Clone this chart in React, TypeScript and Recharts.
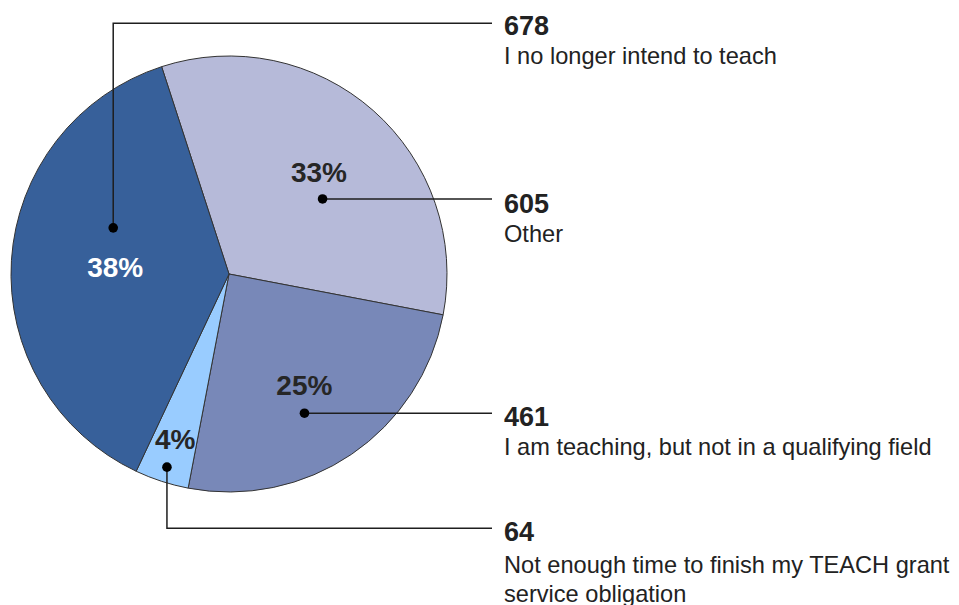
import React from "react";
import { PieChart, Pie, Cell } from "recharts";

// Slices go clockwise from the top boundary
const categories = [
  "Other",
  "I am teaching, but not in a qualifying field",
  "Not enough time to finish my TEACH grant service obligation",
  "I no longer intend to teach",
];
const categoryLines = [
  ["Other"],
  ["I am teaching, but not in a qualifying field"],
  ["Not enough time to finish my TEACH grant", "service obligation"],
  ["I no longer intend to teach"],
];
const counts = [605, 461, 64, 678];
const percents = [33, 25, 4, 38];

const COLORS = ["#b6bad9", "#7888b8", "#99ccff", "#37609a"];
const PCT_COLORS = ["#262626", "#262626", "#262626", "#ffffff"];

// label placement per slice (text radius as share of outer radius, dot offset from text,
// optional elbow target y relative to the centre, text offsets below the leader line)
const LAYOUT = [
  { textR: 0.624, dotDx: 3.6, dotDy: 27, elbowY: null as number | null, numDy: 14, gap: 29, lead: 25 },
  { textR: 0.615, dotDx: 0.1, dotDy: 28.3, elbowY: null as number | null, numDy: 12.5, gap: 29, lead: 25 },
  { textR: 0.798, dotDx: -8.3, dotDy: 27.7, elbowY: 254.3, numDy: 12.4, gap: 32.6, lead: 28.4 },
  { textR: 0.523, dotDx: -2, dotDy: -39, elbowY: -250.7, numDy: 12, gap: 29, lead: 25 },
];

const FONT = "'Liberation Sans', Arial, Helvetica, sans-serif";
const RADIAN = Math.PI / 180;

const data = categories.map((name, i) => ({
  name,
  count: counts[i],
  percent: percents[i],
}));

const renderLabel = (props: any) => {
  const { cx, cy, midAngle, outerRadius, index } = props;
  const lay = LAYOUT[index];
  const r = outerRadius * lay.textR;
  const tx = cx + r * Math.cos(-midAngle * RADIAN);
  const ty = cy + r * Math.sin(-midAngle * RADIAN);
  const dx = tx + lay.dotDx;
  const dy = ty + lay.dotDy;
  const lineY = lay.elbowY === null ? dy : cy + lay.elbowY;
  const lineEnd = cx + 263;
  const textX = cx + 275;
  const numY = lineY + lay.numDy;
  const points =
    lay.elbowY === null
      ? `${dx},${dy} ${lineEnd},${lineY}`
      : `${dx},${dy} ${dx},${lineY} ${lineEnd},${lineY}`;
  return (
    <g key={`lbl-${index}`}>
      <text
        x={tx}
        y={ty}
        dy="0.35em"
        textAnchor="middle"
        fill={PCT_COLORS[index]}
        fontSize={28}
        fontWeight="bold"
        fontFamily={FONT}
      >
        {`${percents[index]}%`}
      </text>
      <polyline points={points} fill="none" stroke="#1e1e1e" strokeWidth={1.5} />
      <circle cx={dx} cy={dy} r={4.8} fill="#000" />
      <text
        x={textX}
        y={numY}
        fill="#222"
        fontSize={27}
        fontWeight="bold"
        fontFamily={FONT}
      >
        {counts[index]}
      </text>
      {categoryLines[index].map((line, j) => (
        <text
          key={j}
          x={textX}
          y={numY + lay.gap + j * lay.lead}
          fill="#222"
          fontSize={23.6}
          fontFamily={FONT}
        >
          {line}
        </text>
      ))}
    </g>
  );
};

export default function App() {
  return (
    <div style={{ width: 959, height: 605, background: "#fff" }}>
      <style>{`body{margin:0}`}</style>
      <PieChart width={959} height={605} margin={{ top: 0, right: 0, bottom: 0, left: 0 }}>
        <Pie
          data={data}
          dataKey="percent"
          nameKey="name"
          cx={229}
          cy={274}
          outerRadius={218}
          startAngle={108}
          endAngle={-252}
          stroke="#333"
          strokeWidth={1}
          label={renderLabel}
          labelLine={false}
          isAnimationActive={false}
        >
          {data.map((entry, idx) => (
            <Cell key={`cell-${idx}`} fill={COLORS[idx]} />
          ))}
        </Pie>
      </PieChart>
    </div>
  );
}
